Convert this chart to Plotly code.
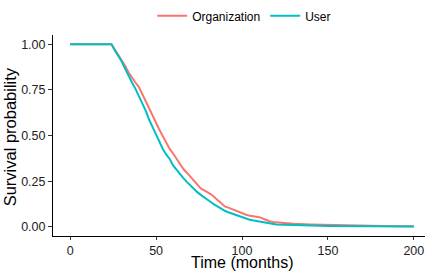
import plotly.graph_objects as go

# Time (months) and survival probability
org_time = [0, 24, 26, 28, 30, 32, 34, 36, 38, 40, 42, 44, 46, 48, 50, 52, 54, 56, 58, 60,
            62, 64, 66, 68, 70, 72, 74, 76, 78, 80, 82, 84, 86, 88, 90, 92, 94, 96, 98, 100,
            102, 104, 106, 108, 110, 112, 114, 116, 118, 120, 125, 130, 140, 150, 160, 175, 190, 200]
org_surv = [1.0, 1.0, 0.97, 0.94, 0.915, 0.88, 0.845, 0.815, 0.79, 0.765, 0.725, 0.69, 0.645, 0.605,
            0.57, 0.53, 0.495, 0.46, 0.425, 0.40, 0.37, 0.34, 0.315, 0.295, 0.275, 0.25, 0.23, 0.21,
            0.20, 0.19, 0.178, 0.162, 0.145, 0.125, 0.112, 0.105, 0.097, 0.088, 0.082, 0.075,
            0.068, 0.062, 0.06, 0.057, 0.053, 0.046, 0.038, 0.031, 0.027, 0.025, 0.021, 0.017,
            0.013, 0.01, 0.008, 0.006, 0.004, 0.003]

user_time = [0, 24, 26, 28, 30, 32, 34, 36, 38, 40, 42, 44, 46, 48, 50, 52, 54, 56, 58, 60,
             62, 64, 66, 68, 70, 72, 74, 76, 78, 80, 82, 84, 86, 88, 90, 92, 94, 96, 98, 100,
             102, 104, 106, 108, 110, 112, 114, 116, 118, 120, 125, 130, 140, 150, 175, 200]
user_surv = [1.0, 1.0, 0.965, 0.935, 0.905, 0.865, 0.825, 0.79, 0.755, 0.715, 0.675, 0.635, 0.585,
             0.545, 0.505, 0.465, 0.425, 0.395, 0.37, 0.335, 0.31, 0.285, 0.265, 0.245, 0.225,
             0.205, 0.19, 0.175, 0.16, 0.148, 0.135, 0.122, 0.11, 0.098, 0.088, 0.08, 0.073,
             0.066, 0.058, 0.05, 0.044, 0.04, 0.036, 0.033, 0.03, 0.027, 0.023, 0.018, 0.015,
             0.013, 0.011, 0.009, 0.007, 0.005, 0.003, 0.002]

x_ticks = [0, 50, 100, 150, 200]
y_ticks = [0.0, 0.25, 0.5, 0.75, 1.0]
y_tick_labels = ["0.00", "0.25", "0.50", "0.75", "1.00"]
x_title = "Time (months)"
y_title = "Survival probability"

FONT = "Liberation Sans, Arial, sans-serif"

fig = go.Figure()
fig.add_trace(go.Scatter(x=org_time, y=org_surv, mode="lines", name="Organization",
                         line=dict(color="#F8766D", width=2)))
fig.add_trace(go.Scatter(x=user_time, y=user_surv, mode="lines", name="User",
                         line=dict(color="#00BFC4", width=2)))

fig.update_layout(
    width=436, height=273,
    margin=dict(l=53, r=11, t=35, b=37, autoexpand=False),
    paper_bgcolor="white", plot_bgcolor="white",
    font=dict(family=FONT, color="#000000"),
    showlegend=True,
    legend=dict(orientation="h", x=0.56, xref="container", xanchor="center",
                y=0.995, yref="container", yanchor="top",
                font=dict(size=12, family=FONT, color="#000000"),
                itemwidth=30, tracegroupgap=0),
    xaxis=dict(range=[-10, 206.5], tickvals=x_ticks, ticktext=[str(v) for v in x_ticks],
               automargin=False,
               showgrid=False, zeroline=False, showline=True, linecolor="#000000", linewidth=1,
               ticks="outside", ticklen=3, tickcolor="#333333",
               tickfont=dict(size=12.5, color="#222222")),
    yaxis=dict(range=[-0.05, 1.05], tickvals=y_ticks, ticktext=y_tick_labels,
               automargin=False,
               showgrid=False, zeroline=False, showline=True, linecolor="#000000", linewidth=1,
               ticks="outside", ticklen=4, tickcolor="#333333",
               tickfont=dict(size=12.5, color="#222222")),
    annotations=[
        dict(text=x_title, xref="paper", yref="paper", x=0.509, y=-0.181,
             xanchor="center", yanchor="bottom", showarrow=False, borderpad=0,
             font=dict(size=16, color="#000000", family=FONT)),
        dict(text=y_title, xref="paper", yref="paper", x=-0.116, y=0.495,
             xanchor="center", yanchor="middle", showarrow=False, textangle=-90,
             font=dict(size=16.5, color="#000000", family=FONT)),
    ],
)

fig.write_html("out.html", config={"displayModeBar": False},
               post_script="document.body.style.margin='0';document.body.style.padding='0';")
